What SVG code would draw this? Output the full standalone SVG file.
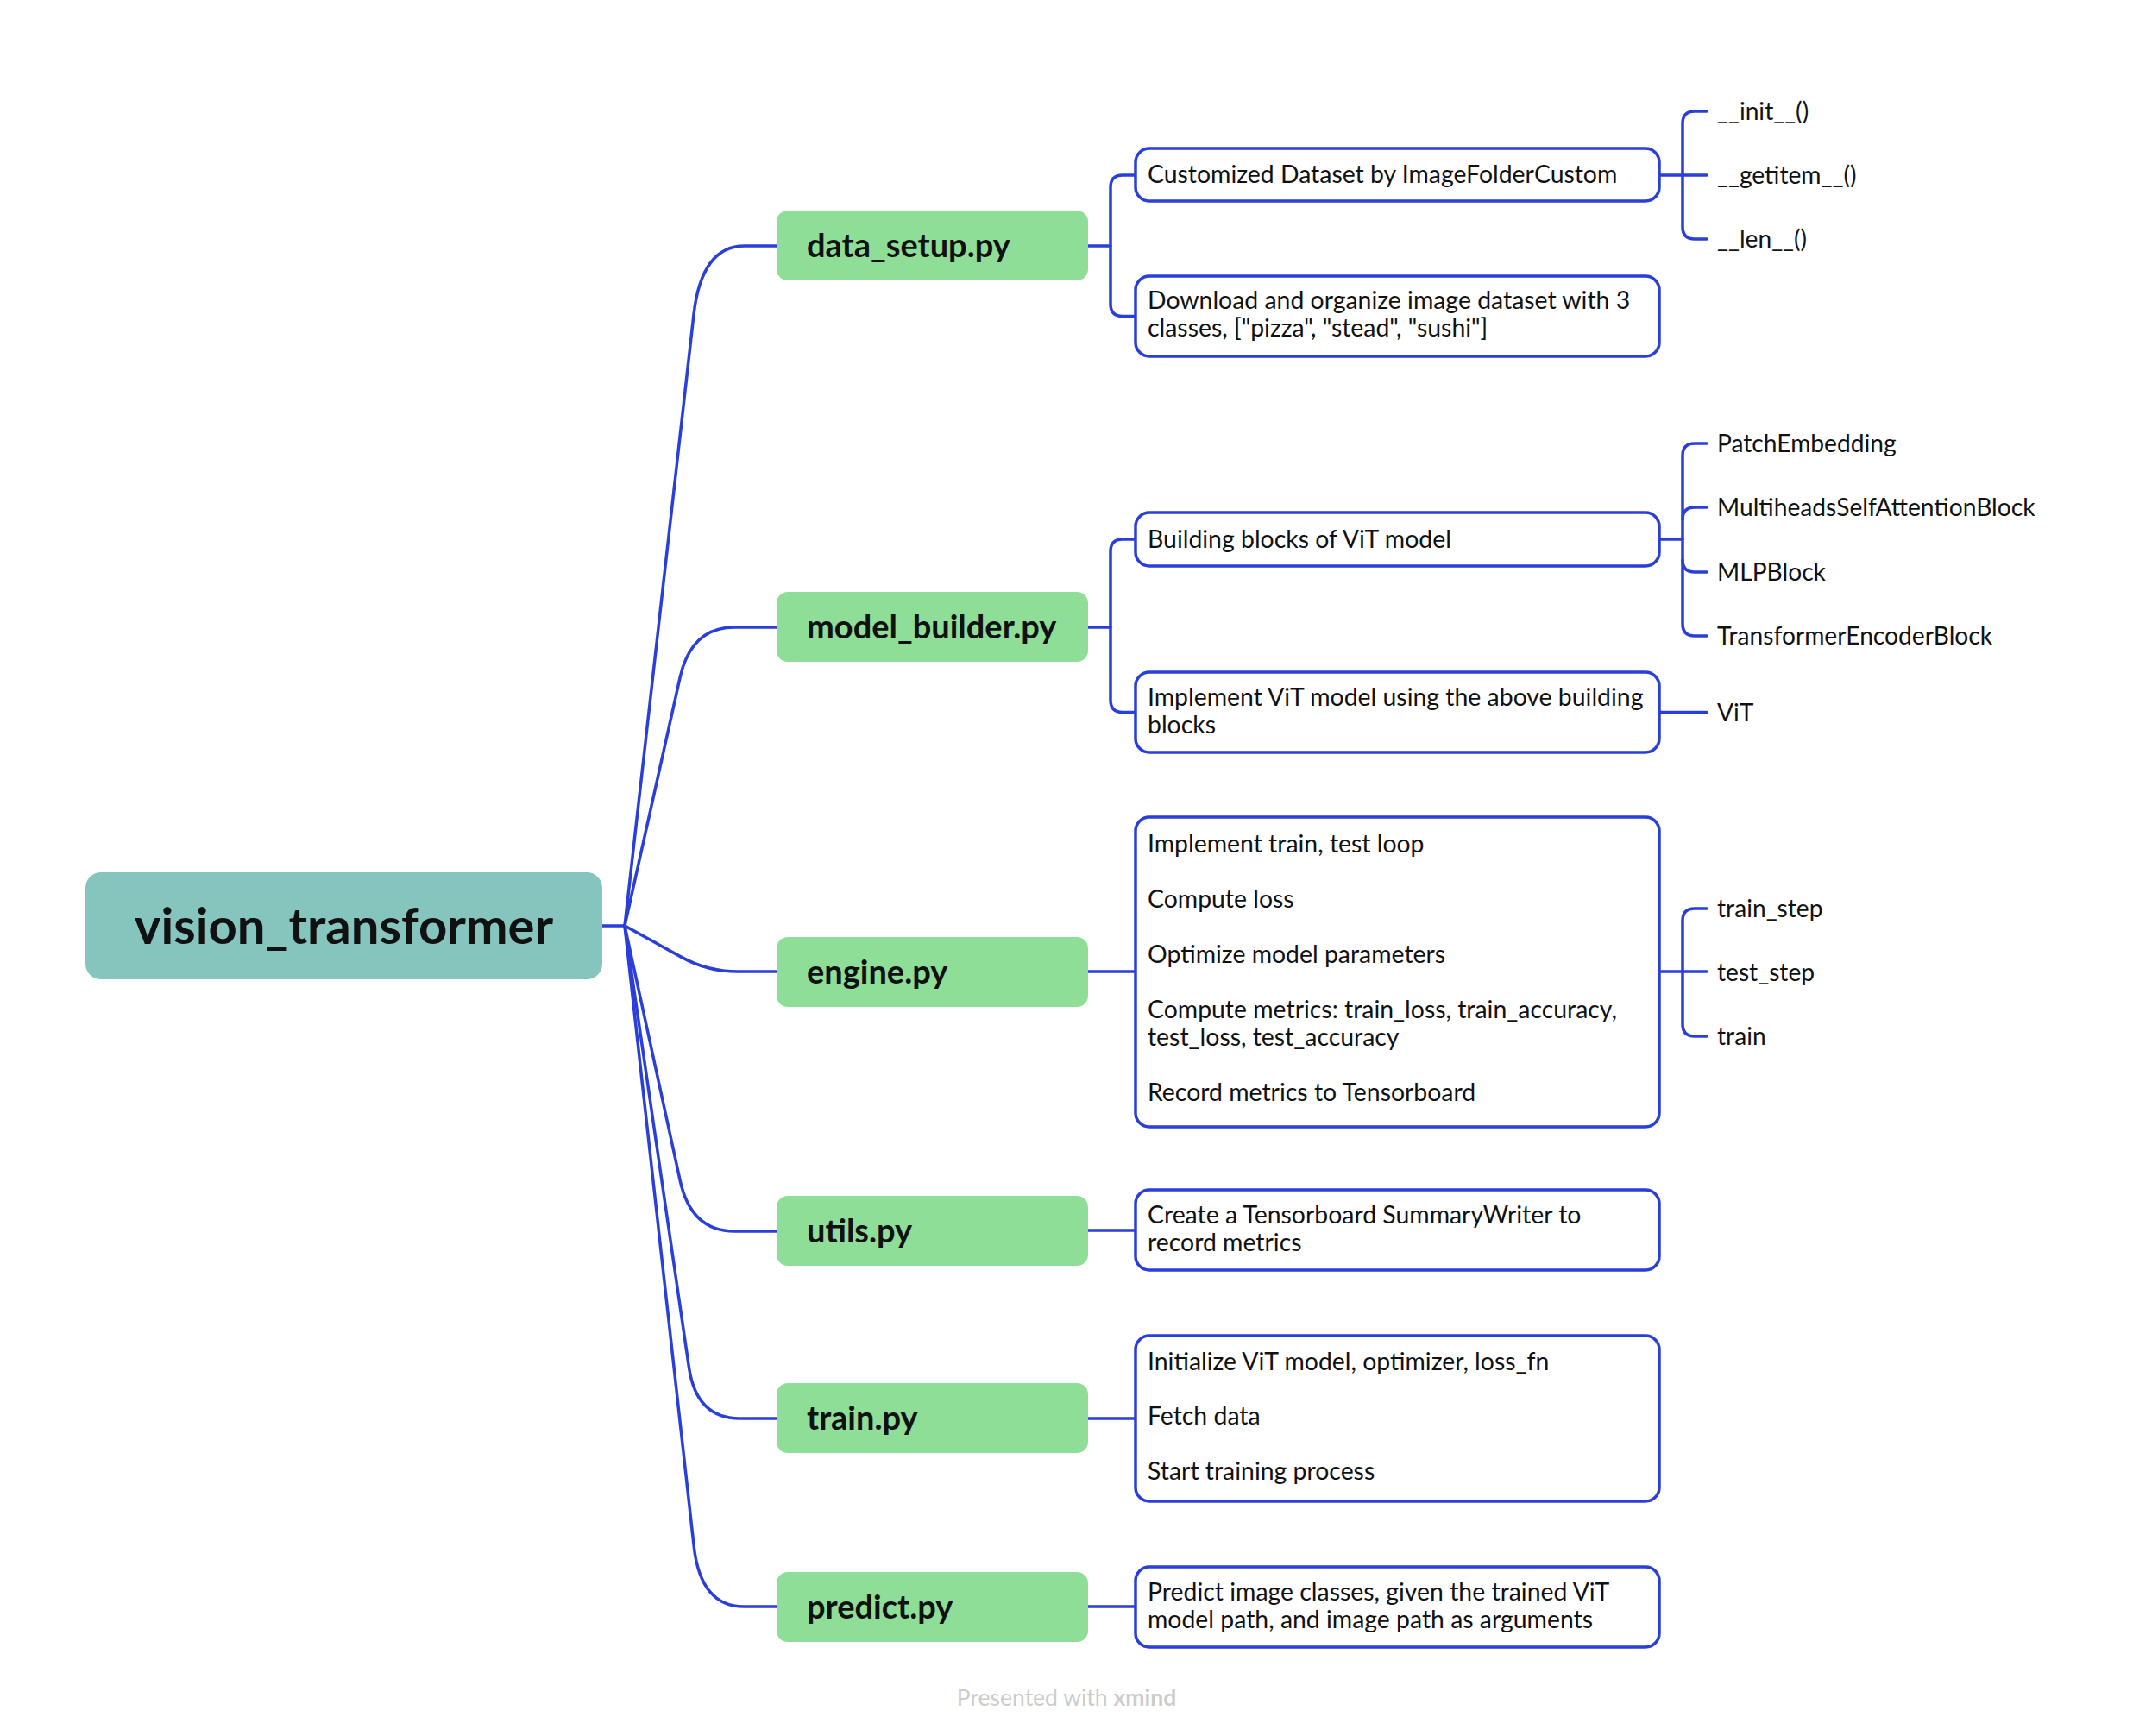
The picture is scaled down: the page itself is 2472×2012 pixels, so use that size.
<svg xmlns="http://www.w3.org/2000/svg" width="2472" height="2012" viewBox="0 0 2472 2012">
<style>
.edge{fill:none;stroke:#2a3fd9;stroke-width:3.5;stroke-linecap:round;stroke-linejoin:round}
.root{fill:#86c4be}
.main{fill:#8fde98}
.sub{fill:#ffffff;stroke:#2a3fd9;stroke-width:3.5}
.t{font-family:Lato,"Liberation Sans",sans-serif;fill:#111111}
.rt{font-size:58px;font-weight:700;text-anchor:middle}
.mt{font-size:38px;font-weight:700}
.st{font-size:28.4px}
.lt{font-size:28.2px}
.ft{font-family:Lato,"Liberation Sans",sans-serif;font-size:26.5px;fill:#cccccc;text-anchor:middle}
</style>
<rect width="2472" height="2012" fill="#ffffff"/>
<g id="connectors">
<path class="edge" d="M698,1073 H724"/>
<path class="edge" d="M724,1073 L804,364.5 Q813,285 863,285 H900"/>
<path class="edge" d="M724,1073 L788,785.6 Q801,727 851,727 H900"/>
<path class="edge" d="M724,1073 L789.4,1109.1 Q820,1126 855,1126 H900"/>
<path class="edge" d="M724,1073 L788.2,1368.4 Q801,1427 851,1427 H900"/>
<path class="edge" d="M724,1073 L798.4,1584.6 Q807,1644 857,1644 H900"/>
<path class="edge" d="M724,1073 L804.2,1792.4 Q812,1862 862,1862 H900"/>
<path class="edge" d="M1261,285 H1287"/>
<path class="edge" d="M1316,203 H1301 Q1287,203 1287,217 V352.5 Q1287,366.5 1301,366.5 H1316"/>
<path class="edge" d="M1261,727 H1287"/>
<path class="edge" d="M1316,625 H1301 Q1287,625 1287,639 V811.5 Q1287,825.5 1301,825.5 H1316"/>
<path class="edge" d="M1261,1126 H1316"/>
<path class="edge" d="M1261,1426 H1316"/>
<path class="edge" d="M1261,1644 H1316"/>
<path class="edge" d="M1261,1862 H1316"/>
<path class="edge" d="M1923,203 H1978"/>
<path class="edge" d="M1978,129 H1964 Q1950,129 1950,143 V263 Q1950,277 1964,277 H1978"/>
<path class="edge" d="M1923,625 H1950"/>
<path class="edge" d="M1978,514 H1964 Q1950,514 1950,528 V723 Q1950,737 1964,737 H1978"/>
<path class="edge" d="M1978,588 H1964 Q1950,588 1950,602"/>
<path class="edge" d="M1950,649 Q1950,663 1964,663 H1978"/>
<path class="edge" d="M1923,825.5 H1978"/>
<path class="edge" d="M1923,1126 H1978"/>
<path class="edge" d="M1978,1053 H1964 Q1950,1053 1950,1067 V1187 Q1950,1201 1964,1201 H1978"/>
</g>
<g id="vision_transformer">
<rect class="root" x="99" y="1011" width="599" height="124" rx="18"/>
<text class="t rt" x="398.5" y="1094">vision_transformer</text>
</g>
<g id="data_setup">
<rect class="main" x="900" y="244" width="361" height="81" rx="13"/>
<text class="t mt" x="935" y="298">data_setup.py</text>
</g>
<g id="model_builder">
<rect class="main" x="900" y="686" width="361" height="81" rx="13"/>
<text class="t mt" x="935" y="740">model_builder.py</text>
</g>
<g id="engine">
<rect class="main" x="900" y="1086" width="361" height="81" rx="13"/>
<text class="t mt" x="935" y="1140">engine.py</text>
</g>
<g id="utils">
<rect class="main" x="900" y="1386" width="361" height="81" rx="13"/>
<text class="t mt" x="935" y="1440">utils.py</text>
</g>
<g id="train">
<rect class="main" x="900" y="1603" width="361" height="81" rx="13"/>
<text class="t mt" x="935" y="1657">train.py</text>
</g>
<g id="predict">
<rect class="main" x="900" y="1822" width="361" height="81" rx="13"/>
<text class="t mt" x="935" y="1876">predict.py</text>
</g>
<g id="customized_dataset">
<rect class="sub" x="1316" y="172" width="607" height="61" rx="16"/>
<text class="t st" x="1330" y="212">Customized Dataset by ImageFolderCustom</text>
</g>
<g id="download_dataset">
<rect class="sub" x="1316" y="320" width="607" height="93" rx="16"/>
<text class="t st" x="1330" y="358">Download and organize image dataset with 3</text>
<text class="t st" x="1330" y="390">classes, [&quot;pizza&quot;, &quot;stead&quot;, &quot;sushi&quot;]</text>
</g>
<g id="building_blocks">
<rect class="sub" x="1316" y="594" width="607" height="62" rx="16"/>
<text class="t st" x="1330" y="635">Building blocks of ViT model</text>
</g>
<g id="implement_vit">
<rect class="sub" x="1316" y="779" width="607" height="93" rx="16"/>
<text class="t st" x="1330" y="818">Implement ViT model using the above building</text>
<text class="t st" x="1330" y="850">blocks</text>
</g>
<g id="engine_details">
<rect class="sub" x="1316" y="947" width="607" height="359" rx="16"/>
<text class="t st" x="1330" y="988">Implement train, test loop</text>
<text class="t st" x="1330" y="1052">Compute loss</text>
<text class="t st" x="1330" y="1116">Optimize model parameters</text>
<text class="t st" x="1330" y="1180">Compute metrics: train_loss, train_accuracy,</text>
<text class="t st" x="1330" y="1212">test_loss, test_accuracy</text>
<text class="t st" x="1330" y="1276">Record metrics to Tensorboard</text>
</g>
<g id="utils_details">
<rect class="sub" x="1316" y="1379" width="607" height="93" rx="16"/>
<text class="t st" x="1330" y="1418">Create a Tensorboard SummaryWriter to</text>
<text class="t st" x="1330" y="1450">record metrics</text>
</g>
<g id="train_details">
<rect class="sub" x="1316" y="1548" width="607" height="192" rx="16"/>
<text class="t st" x="1330" y="1588">Initialize ViT model, optimizer, loss_fn</text>
<text class="t st" x="1330" y="1651">Fetch data</text>
<text class="t st" x="1330" y="1715">Start training process</text>
</g>
<g id="predict_details">
<rect class="sub" x="1316" y="1816" width="607" height="93" rx="16"/>
<text class="t st" x="1330" y="1855">Predict image classes, given the trained ViT</text>
<text class="t st" x="1330" y="1887">model path, and image path as arguments</text>
</g>
<g id="leaf_init"><text class="t lt" x="1990" y="139">__init__()</text></g>
<g id="leaf_getitem"><text class="t lt" x="1990" y="213">__getitem__()</text></g>
<g id="leaf_len"><text class="t lt" x="1990" y="287">__len__()</text></g>
<g id="leaf_patch"><text class="t lt" x="1990" y="524">PatchEmbedding</text></g>
<g id="leaf_msa"><text class="t lt" x="1990" y="598">MultiheadsSelfAttentionBlock</text></g>
<g id="leaf_mlp"><text class="t lt" x="1990" y="673">MLPBlock</text></g>
<g id="leaf_encoder"><text class="t lt" x="1990" y="747">TransformerEncoderBlock</text></g>
<g id="leaf_vit"><text class="t lt" x="1990" y="836">ViT</text></g>
<g id="leaf_train_step"><text class="t lt" x="1990" y="1063">train_step</text></g>
<g id="leaf_test_step"><text class="t lt" x="1990" y="1137">test_step</text></g>
<g id="leaf_train"><text class="t lt" x="1990" y="1211">train</text></g>
<text class="ft" x="1236" y="1977">Presented with <tspan font-weight="700">xmind</tspan></text>
</svg>
